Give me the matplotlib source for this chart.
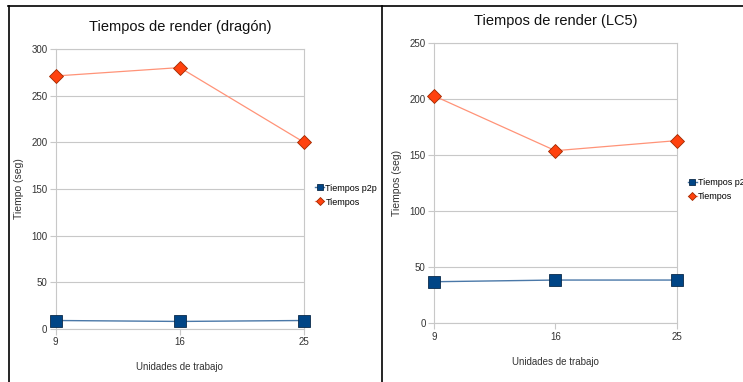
import matplotlib
matplotlib.use('Agg')
import matplotlib.pyplot as plt
from matplotlib.lines import Line2D

# datos
unidades = ['9', '16', '25']
dragon_p2p = [9, 8, 9]
dragon_tiempos = [271, 280, 200]
lc5_p2p = [37, 38.5, 38.5]
lc5_tiempos = [203, 154, 163]

AZUL = '#004586'
AZUL_LINEA = '#4a78a8'
ROJO = '#ff420e'
ROJO_LINEA = '#ff9378'
GRIS = '#c8c8c8'

plt.rcParams['font.family'] = ['Liberation Sans', 'DejaVu Sans']

fig = plt.figure(figsize=(7.43, 3.82), dpi=100)
fig.patch.set_facecolor('white')


def dibujar(ax, p2p, tiempos, ymax, titulo, ylabel, ylab_x, xlab_y):
    x = range(len(unidades))
    ax.plot(x, p2p, color=AZUL_LINEA, lw=1.0, marker='s', ms=8, mfc=AZUL,
            mec='#0a2a4a', mew=0.6, zorder=4, clip_on=False, label='Tiempos p2p')
    ax.plot(x, tiempos, color=ROJO_LINEA, lw=0.9, marker='D', ms=7, mfc=ROJO,
            mec='#a02a00', mew=0.6, zorder=4, clip_on=False, label='Tiempos')
    ax.set_xlim(0, len(unidades) - 1)
    ax.set_ylim(0, ymax)
    ax.set_yticks(range(0, ymax + 1, 50))
    ax.set_xticks(list(x))
    ax.set_xticklabels(unidades)
    ax.grid(axis='y', color=GRIS, lw=0.8)
    ax.grid(axis='x', visible=False)
    for s in ax.spines.values():
        s.set_color(GRIS)
        s.set_linewidth(0.8)
    ax.tick_params(color=GRIS, length=4, width=0.8, labelsize=7,
                   labelcolor='#333333', pad=2)
    ax.set_title(titulo, fontsize=10.5, color='#111111', pad=13)
    ax.set_ylabel(ylabel, fontsize=7.5, color='#333333')
    ax.set_xlabel('Unidades de trabajo', fontsize=7, color='#333333')
    ax.yaxis.set_label_coords(ylab_x, 0.5)
    ax.xaxis.set_label_coords(0.5, xlab_y)
    ax.set_facecolor('white')
    ax.legend(loc='center left', bbox_to_anchor=(1.045, 0.478), frameon=False,
              borderaxespad=0, borderpad=0,
              handlelength=1.0, handletextpad=0.15, labelspacing=0.55,
              markerscale=0.6, prop={'size': 6.5})


ax1 = fig.add_axes([0.075, 0.139, 0.334, 0.733])
dibujar(ax1, dragon_p2p, dragon_tiempos, 300, 'Tiempos de render (dragón)',
        'Tiempo (seg)', -0.128, -0.118)

ax2 = fig.add_axes([0.584, 0.154, 0.327, 0.733])
dibujar(ax2, lc5_p2p, lc5_tiempos, 250, 'Tiempos de render (LC5)',
        'Tiempos (seg)', -0.132, -0.121)

# marco negro del documento
top = 1 - 6 / 382
fig.add_artist(Line2D([8 / 743, 1], [top, top], color='black', lw=1.2))
fig.add_artist(Line2D([9 / 743, 9 / 743], [0, top], color='black', lw=1.2))
fig.add_artist(Line2D([382 / 743, 382 / 743], [0, top], color='black', lw=1.2))

fig.savefig('out.png', dpi=100)
